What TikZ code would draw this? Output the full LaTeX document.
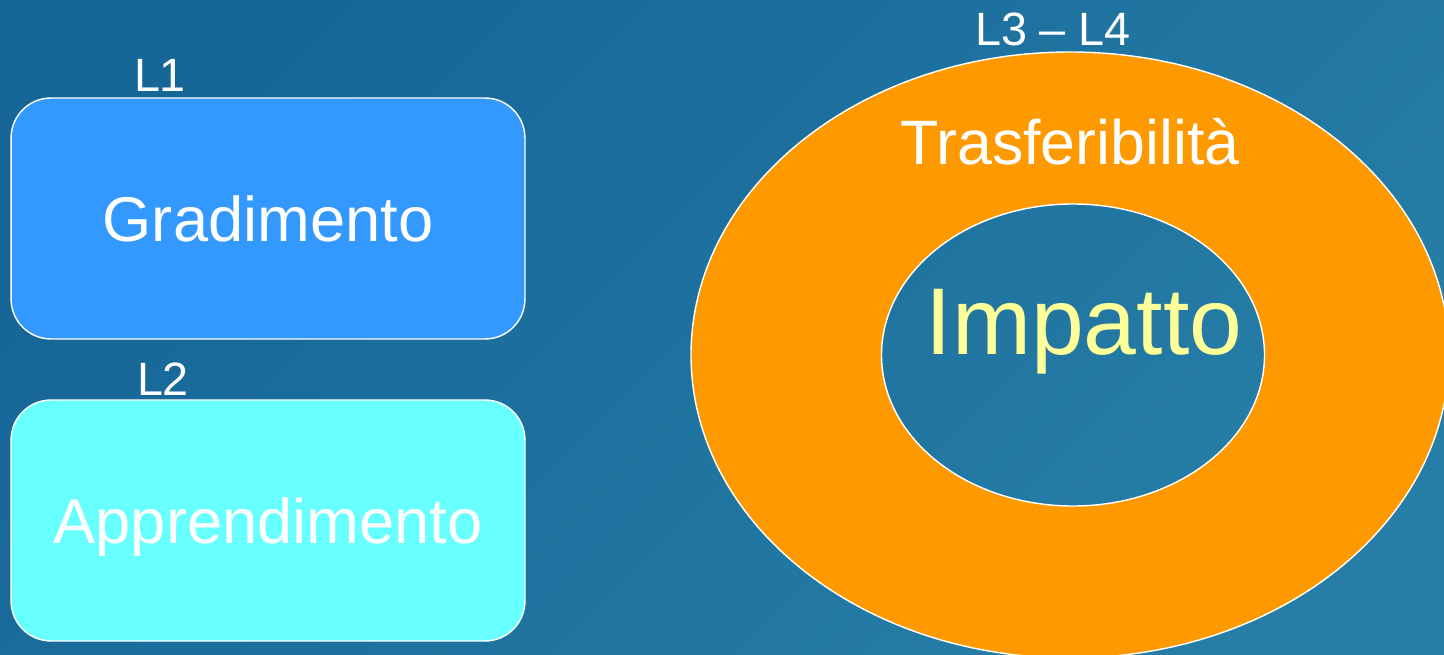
\documentclass[tikz,border=0pt]{standalone}
\usepackage{fontspec}
\setmainfont{Liberation Sans}
\usetikzlibrary{shapes}
\definecolor{bgdark}{RGB}{22,102,152}
\definecolor{bglight}{RGB}{38,126,166}
\definecolor{myblue}{RGB}{51,153,255}
\definecolor{mycyan}{RGB}{104,255,255}
\definecolor{myorange}{RGB}{255,153,0}
\definecolor{myyellow}{RGB}{255,255,153}
\newcommand*{\lvlfont}{\fontsize{26.6}{30}\selectfont}
\newcommand*{\boxfont}{\fontsize{36}{40}\selectfont}
\tikzset{
	levelbox/.style={draw=white, line width=0.8pt, rounded corners=0.8cm,
		minimum width=10.28cm, minimum height=4.82cm,
		text=white, font=\boxfont, text depth=0pt},
	lvllabel/.style={text=white, font=\lvlfont, anchor=base, inner sep=0pt}
}

\begin{document}
\begin{tikzpicture}[x=0.02cm, y=-0.02cm]
	\useasboundingbox (0,0) rectangle (1444,655);
	\clip (0,0) rectangle (1444,655);
	\begin{scope}[y=0.02cm]
		\shade[top color=bgdark, bottom color=bglight, shading angle=45] (0,-655) rectangle (1444,0);
	\end{scope}
	% levels 1 and 2
	\node[levelbox, fill=myblue] (grad) at (268,218.5) {Gradimento};
	\node[levelbox, fill=mycyan] (appr) at (268,520.5) {Apprendimento};
	\node[lvllabel] (l1) at (160,92) {L1};
	\node[lvllabel] (l2) at (163,395) {L2};
	% levels 3 and 4
	\coordinate (outer) at (1070,355);
	\coordinate (inner) at (1073,355);
	\fill[myorange, even odd rule] (outer) ellipse [x radius=379, y radius=303]
		(inner) ellipse [x radius=191.5, y radius=151];
	\draw[white, line width=0.8pt] (outer) ellipse [x radius=379, y radius=303];
	\draw[white, line width=0.8pt] (inner) ellipse [x radius=191.5, y radius=151];
	\node[lvllabel] (l34) at (1053,46) {L3 \textendash{} L4};
	\node[anchor=base, text=white, font=\fontsize{35.7}{40}\selectfont] (trasf) at (1070,165) {Trasferibilità};
	\node[anchor=base, text=myyellow, font=\fontsize{54}{60}\selectfont] (imp) at (1084,355) {Impatto};
\end{tikzpicture}
\end{document}
